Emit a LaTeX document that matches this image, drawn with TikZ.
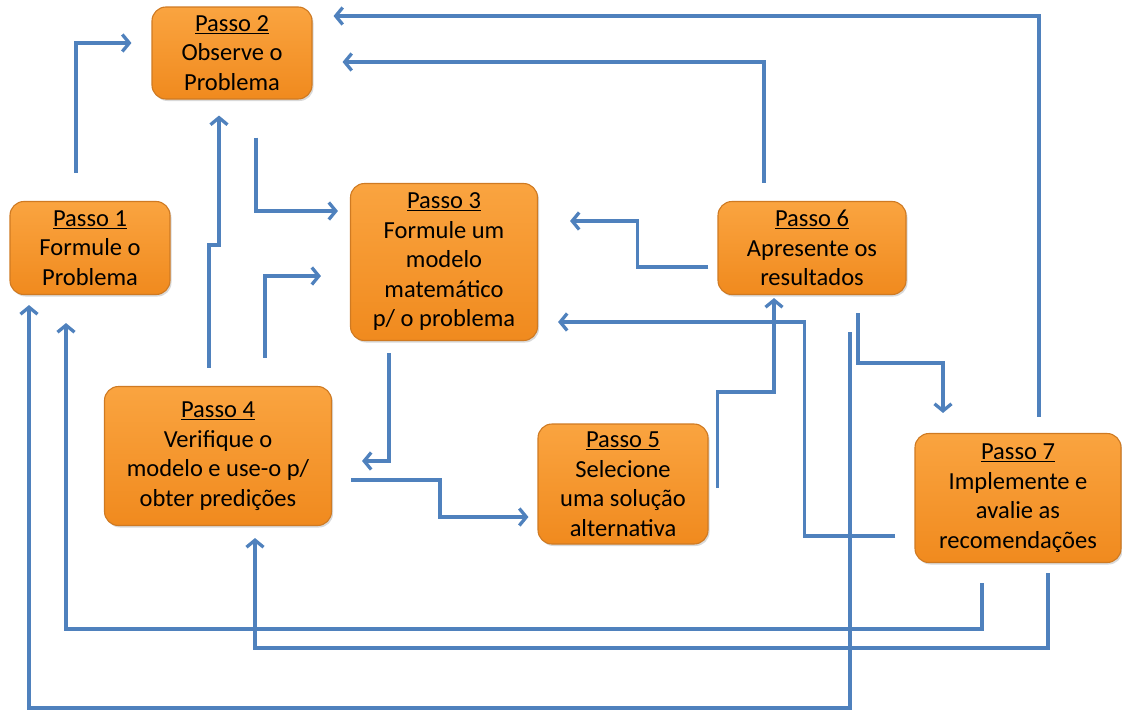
\documentclass[tikz,border=0pt]{standalone}
\usepackage{fontspec}
\setmainfont{Carlito}
\usetikzlibrary{arrows.meta,shadows}
\definecolor{laranjaclaro}{HTML}{FAA440}
\definecolor{laranjaescuro}{HTML}{F08A1E}
\definecolor{bordalaranja}{HTML}{CF7A22}
\definecolor{azul}{HTML}{4F81BD}

\begin{document}
\begin{tikzpicture}[x=1pt,y=-1pt,
    passo/.style={draw=bordalaranja, line width=1.1pt, rounded corners=14pt,
      top color=laranjaclaro, bottom color=laranjaescuro, inner sep=0pt,
      align=center, text=black, font=\fontsize{24.5}{29.5}\selectfont,
      drop shadow={opacity=0.3,shadow xshift=1.5pt,shadow yshift=-2pt}},
    fluxo/.style={draw=azul, line width=3.3pt, -{Straight Barb[length=7pt,width=17pt]}}]
    \useasboundingbox (0,0) rectangle (1122,712);

    % caixas
    \node[passo, minimum width=160pt, minimum height=93pt] (p1) at (90,248) {\underline{Passo 1}\\Formule o\\Problema};
    \node[passo, minimum width=160pt, minimum height=92pt] (p2) at (232,53) {\underline{Passo 2}\\Observe o\\Problema};
    \node[passo, minimum width=187pt, minimum height=157pt] (p3) at (444,262) {\underline{Passo 3}\\Formule um\\modelo\\matemático\\p/ o problema};
    \node[passo, minimum width=227pt, minimum height=139pt] (p4) at (218,456) {\underline{Passo 4}\\Verifique o\\modelo e use-o p/\\obter predições};
    \node[passo, minimum width=170pt, minimum height=120pt] (p5) at (623,484) {\underline{Passo 5}\\Selecione\\uma solução\\alternativa};
    \node[passo, minimum width=188pt, minimum height=93pt] (p6) at (812,248) {\underline{Passo 6}\\Apresente os\\resultados};
    \node[passo, minimum width=206pt, minimum height=129pt] (p7) at (1018,498) {\underline{Passo 7}\\Implemente e\\avalie as\\recomendações};

    % setas
    \draw[fluxo] ([xshift=-14pt,yshift=28pt]p1.north) |- ([xshift=-20pt,yshift=10pt]p2.west);
    \draw[fluxo] ([xshift=24pt,yshift=-38pt]p2.south) |- ([xshift=-12pt,yshift=51pt]p3.west);
    \draw[fluxo] ([xshift=-9pt,yshift=18pt]p4.north) -- ++(0,-123) -| ([xshift=-13pt,yshift=-16pt]p2.south);
    \draw[fluxo] ([xshift=47pt,yshift=28pt]p4.north) |- ([xshift=-29pt,yshift=-14pt]p3.west);
    \draw[fluxo] ([xshift=-55pt,yshift=-12pt]p3.south) |- ([xshift=30pt,yshift=-5pt]p4.east);
    \draw[fluxo] ([xshift=19pt,yshift=-24pt]p4.east) -- ++(89,0) |- ([xshift=-9pt,yshift=-33pt]p5.west);
    \draw[fluxo] ([xshift=9pt,yshift=-4pt]p5.east) -- ++(0,-96) -| ([xshift=-38pt,yshift=-3pt]p6.south);
    \draw[fluxo] ([xshift=-9pt,yshift=-19pt]p6.west) -- ++(-71,0) |- ([xshift=32pt,yshift=41pt]p3.east);
    \draw[fluxo] ([xshift=-48pt,yshift=18pt]p6.north) |- ([xshift=30pt,yshift=-9pt]p2.east);
    \draw[fluxo] ([xshift=21pt,yshift=16pt]p7.north) |- ([xshift=21pt,yshift=37pt]p2.east);
    \draw[fluxo] ([xshift=-19pt,yshift=-38pt]p7.west) -- ++(-91,0) |- ([xshift=20pt,yshift=-60pt]p3.east);
    \draw[fluxo] ([xshift=46pt,yshift=-18pt]p6.south) -- ++(0,50) -| ([xshift=-75pt,yshift=20pt]p7.north);
    \draw[fluxo] ([xshift=-36pt,yshift=-20pt]p7.south) -- ++(0,46) -| ([xshift=-24pt,yshift=-28pt]p1.south);
    \draw[fluxo] ([xshift=30pt,yshift=-10pt]p7.south) -- ++(0,75) -| ([xshift=37pt,yshift=-12pt]p4.south);
    \draw[fluxo] ([xshift=38pt,yshift=-37pt]p6.south) -- ++(0,376) -| ([xshift=-61pt,yshift=-10pt]p1.south);
\end{tikzpicture}
\end{document}
